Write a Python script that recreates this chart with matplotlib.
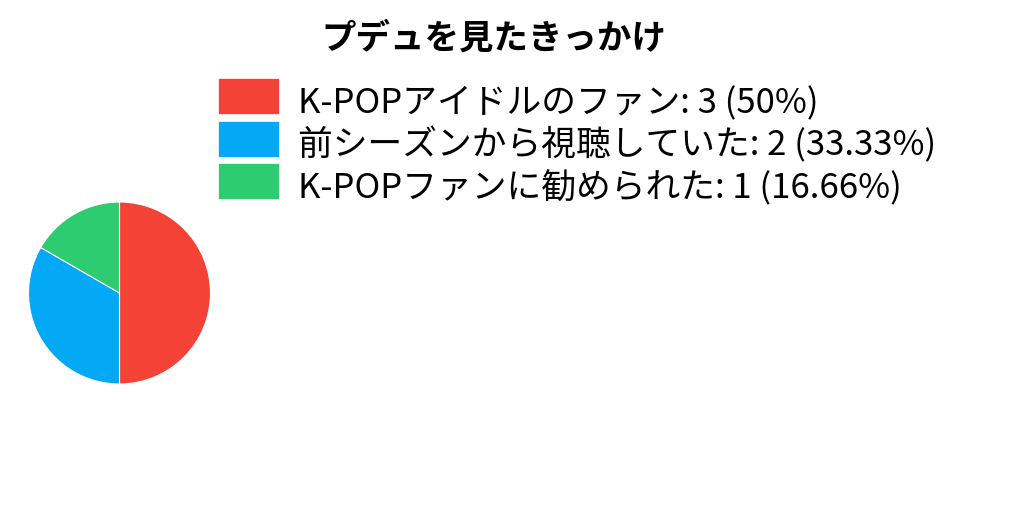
import matplotlib
matplotlib.use('Agg')
import matplotlib.pyplot as plt
from matplotlib.patches import Rectangle

plt.rcParams['font.family'] = ['Noto Sans CJK JP', 'DejaVu Sans']

title = 'プデュを見たきっかけ'
labels = ['K-POPアイドルのファン', '前シーズンから視聴していた', 'K-POPファンに勧められた']
counts = [3, 2, 1]
percents = ['50%', '33.33%', '16.66%']
colors = ['#F44336', '#03A9F4', '#2ECC71']

W, H = 1024, 512
fig = plt.figure(figsize=(W / 100, H / 100), dpi=100)

# pie
ax = fig.add_axes([28 / W, 1 - 384 / H, 183 / W, 182 / H])
ax.pie(counts, colors=colors, startangle=90, counterclock=False,
       wedgeprops=dict(edgecolor='white', linewidth=0.8))
ax.set_xlim(-1, 1)
ax.set_ylim(-1, 1)
ax.set_aspect('equal')

fig.text(494 / W, 1 - 49 / H, title, ha='center', va='baseline',
         fontsize=24.8, fontweight='bold')

# legend drawn by hand
for i, (lab, c, p, col) in enumerate(zip(labels, counts, percents, colors)):
    top = 78 + i * 42.5
    fig.patches.append(Rectangle((218 / W, 1 - (top + 36) / H), 61 / W, 36 / H,
                                 transform=fig.transFigure, facecolor=col,
                                 edgecolor='white', linewidth=0.5))
    fig.text(298 / W, 1 - (top + 35) / H, '%s: %d (%s)' % (lab, c, p),
             ha='left', va='baseline', fontsize=25)

fig.savefig('out.png', dpi=100)
